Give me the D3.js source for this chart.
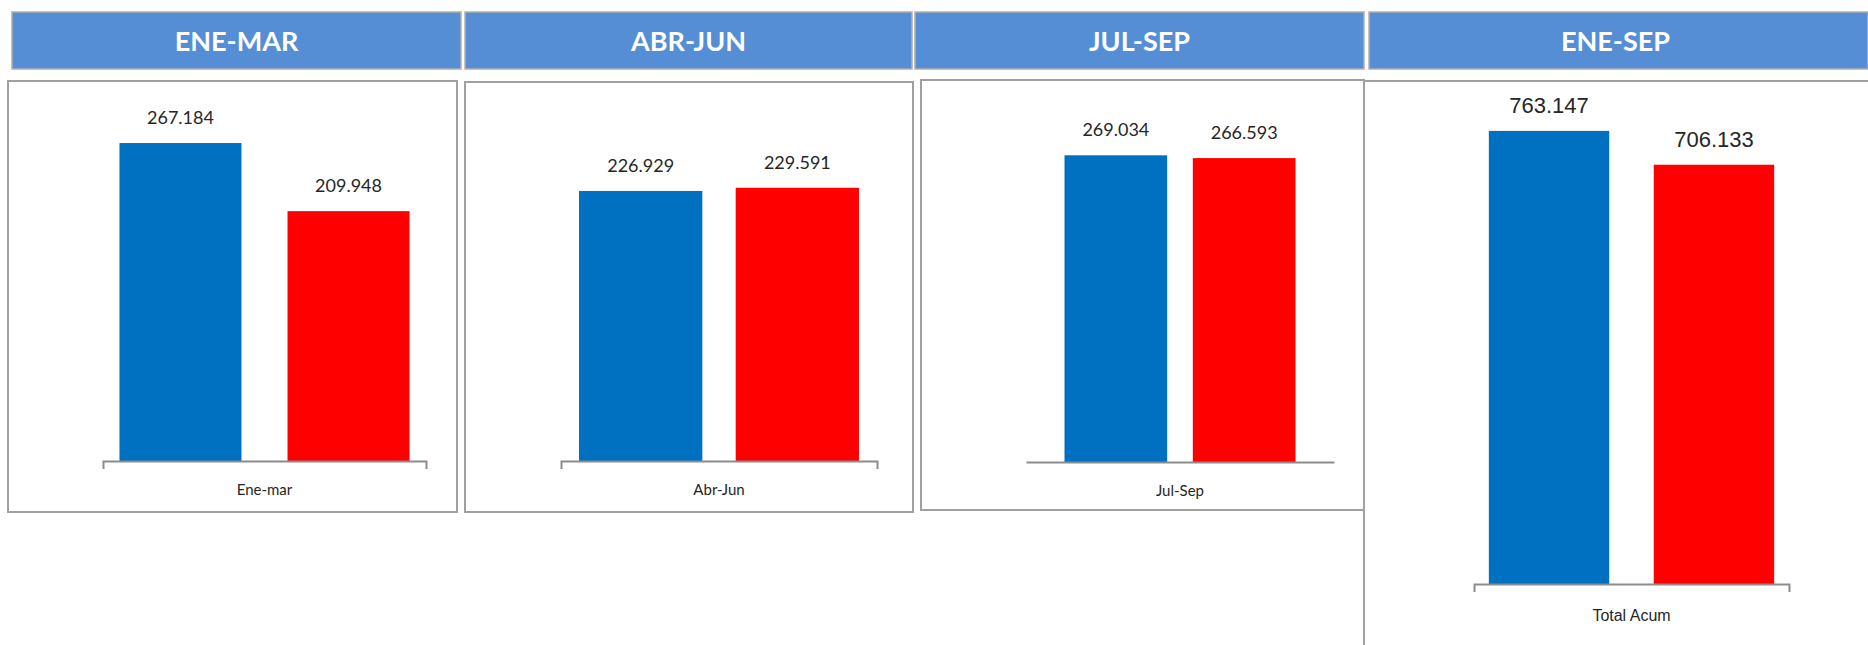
<!DOCTYPE html>
<html>
<head>
<meta charset="utf-8">
<script src="https://cdn.jsdelivr.net/npm/d3@7"></script>
<style>
  body { margin: 0; background: #fff; }
</style>
</head>
<body>
<div id="chart"></div>
<script>
// data
const periods = ["ENE-MAR", "ABR-JUN", "JUL-SEP", "ENE-SEP"];
const categories = ["Ene-mar", "Abr-Jun", "Jul-Sep", "Total Acum"];
const seriesNames = ["azul", "rojo"];
const blueValues = [267184, 226929, 269034, 763147];
const redValues = [209948, 229591, 266593, 706133];

const colors = {azul: "#0070C0", rojo: "#FF0000"};

// layout of each panel (header cell, frame, plot area)
const panels = [
  {hx0: 12, hx1: 461, fx0: 8, fx1: 457, fy0: 81, fy1: 512, ax0: 103, ax1: 426, base: 461, top: 104, ymax: 300000, pi: 0.274, po: 0.098, ends: true, big: false},
  {hx0: 465, hx1: 912, fx0: 465, fx1: 913, fy0: 82, fy1: 512, ax0: 561, ax1: 877, base: 461, top: 104, ymax: 300000, pi: 0.213, po: 0.115, ends: true, big: false},
  {hx0: 915, hx1: 1364, fx0: 921, fx1: 1364, fy0: 80, fy1: 510, ax0: 1026, ax1: 1334, base: 462, top: 120, ymax: 300000, pi: 0.2, po: 0.3, ends: false, big: false},
  {hx0: 1369, hx1: 1868, fx0: 1364, fx1: 1880, fy0: 81, fy1: 660, ax0: 1474, ax1: 1789, base: 584, top: 109, ymax: 800000, pi: 0.27, po: 0.09, ends: true, big: true}
];

const es = d3.formatLocale({decimal: ",", thousands: ".", grouping: [3], currency: ["", " €"]});
const fmt = es.format(",d");

const W = 1868, H = 645;
const svg = d3.select("#chart")
    .append("svg")
    .attr("width", W)
    .attr("height", H);

svg.append("rect").attr("width", W).attr("height", H).attr("fill", "#fff");

panels.forEach(function(p, i) {
    // header cell
    svg.append("rect")
        .attr("x", p.hx0)
        .attr("y", 12)
        .attr("width", p.hx1 - p.hx0)
        .attr("height", 57)
        .attr("fill", "#558ED5")
        .attr("stroke", "#b0b0b0")
        .attr("stroke-width", 1.5);
    svg.append("text")
        .attr("x", (p.hx0 + Math.min(p.hx1, 1862)) / 2)
        .attr("y", 51)
        .attr("text-anchor", "middle")
        .attr("font-family", "Lato, 'Open Sans', sans-serif")
        .attr("font-weight", "bold")
        .attr("font-size", 27)
        .attr("fill", "#fff")
        .text(periods[i]);

    // chart frame
    if (p.big) {
        svg.append("path")
            .attr("d", "M" + p.fx0 + "," + H + "V" + p.fy0 + "H" + W)
            .attr("fill", "none")
            .attr("stroke", "#a0a0a0")
            .attr("stroke-width", 2);
    } else {
        svg.append("rect")
            .attr("x", p.fx0)
            .attr("y", p.fy0)
            .attr("width", p.fx1 - p.fx0)
            .attr("height", p.fy1 - p.fy0)
            .attr("fill", "#fff")
            .attr("stroke", "#a0a0a0")
            .attr("stroke-width", 2);
    }

    const g = svg.append("g");
    const vals = [blueValues[i], redValues[i]];

    let x = d3.scaleBand()
        .domain(seriesNames)
        .range([p.ax0, p.ax1])
        .paddingInner(p.pi)
        .paddingOuter(p.po);

    let y = d3.scaleLinear()
        .domain([0, p.ymax])
        .range([p.base, p.top]);

    // bars
    g.selectAll("rect.bar")
        .data(vals)
        .enter()
        .append("rect")
        .attr("class", "bar")
        .attr("x", (d, j) => x(seriesNames[j]))
        .attr("y", d => y(d))
        .attr("width", x.bandwidth())
        .attr("height", d => p.base - y(d))
        .attr("fill", (d, j) => colors[seriesNames[j]]);

    // value labels
    g.selectAll("text.val")
        .data(vals)
        .enter()
        .append("text")
        .attr("class", "val")
        .attr("x", (d, j) => x(seriesNames[j]) + x.bandwidth() / 2)
        .attr("y", d => y(d) - (p.big ? 18 : 19))
        .attr("text-anchor", "middle")
        .attr("font-family", p.big ? "'Liberation Sans', Arial, sans-serif" : "Lato, 'Open Sans', sans-serif")
        .attr("font-size", p.big ? 22 : 18)
        .attr("fill", "#262626")
        .text(d => fmt(d));

    // category axis
    let xc = d3.scaleBand()
        .domain([categories[i]])
        .range([p.ax0, p.ax1]);

    let axis = g.append("g")
        .attr("transform", "translate(0," + p.base + ")")
        .call(d3.axisBottom(xc).tickSizeInner(0).tickSizeOuter(p.ends ? 8 : 0));

    axis.select(".domain")
        .attr("stroke", "#8c8c8c")
        .attr("stroke-width", 2);
    axis.selectAll("text")
        .attr("y", p.big ? 37 : 34)
        .attr("dy", 0)
        .attr("font-family", p.big ? "'Liberation Sans', Arial, sans-serif" : "Lato, 'Open Sans', sans-serif")
        .attr("font-size", p.big ? 16 : 15)
        .attr("fill", "#262626");
});
</script>
</body>
</html>
